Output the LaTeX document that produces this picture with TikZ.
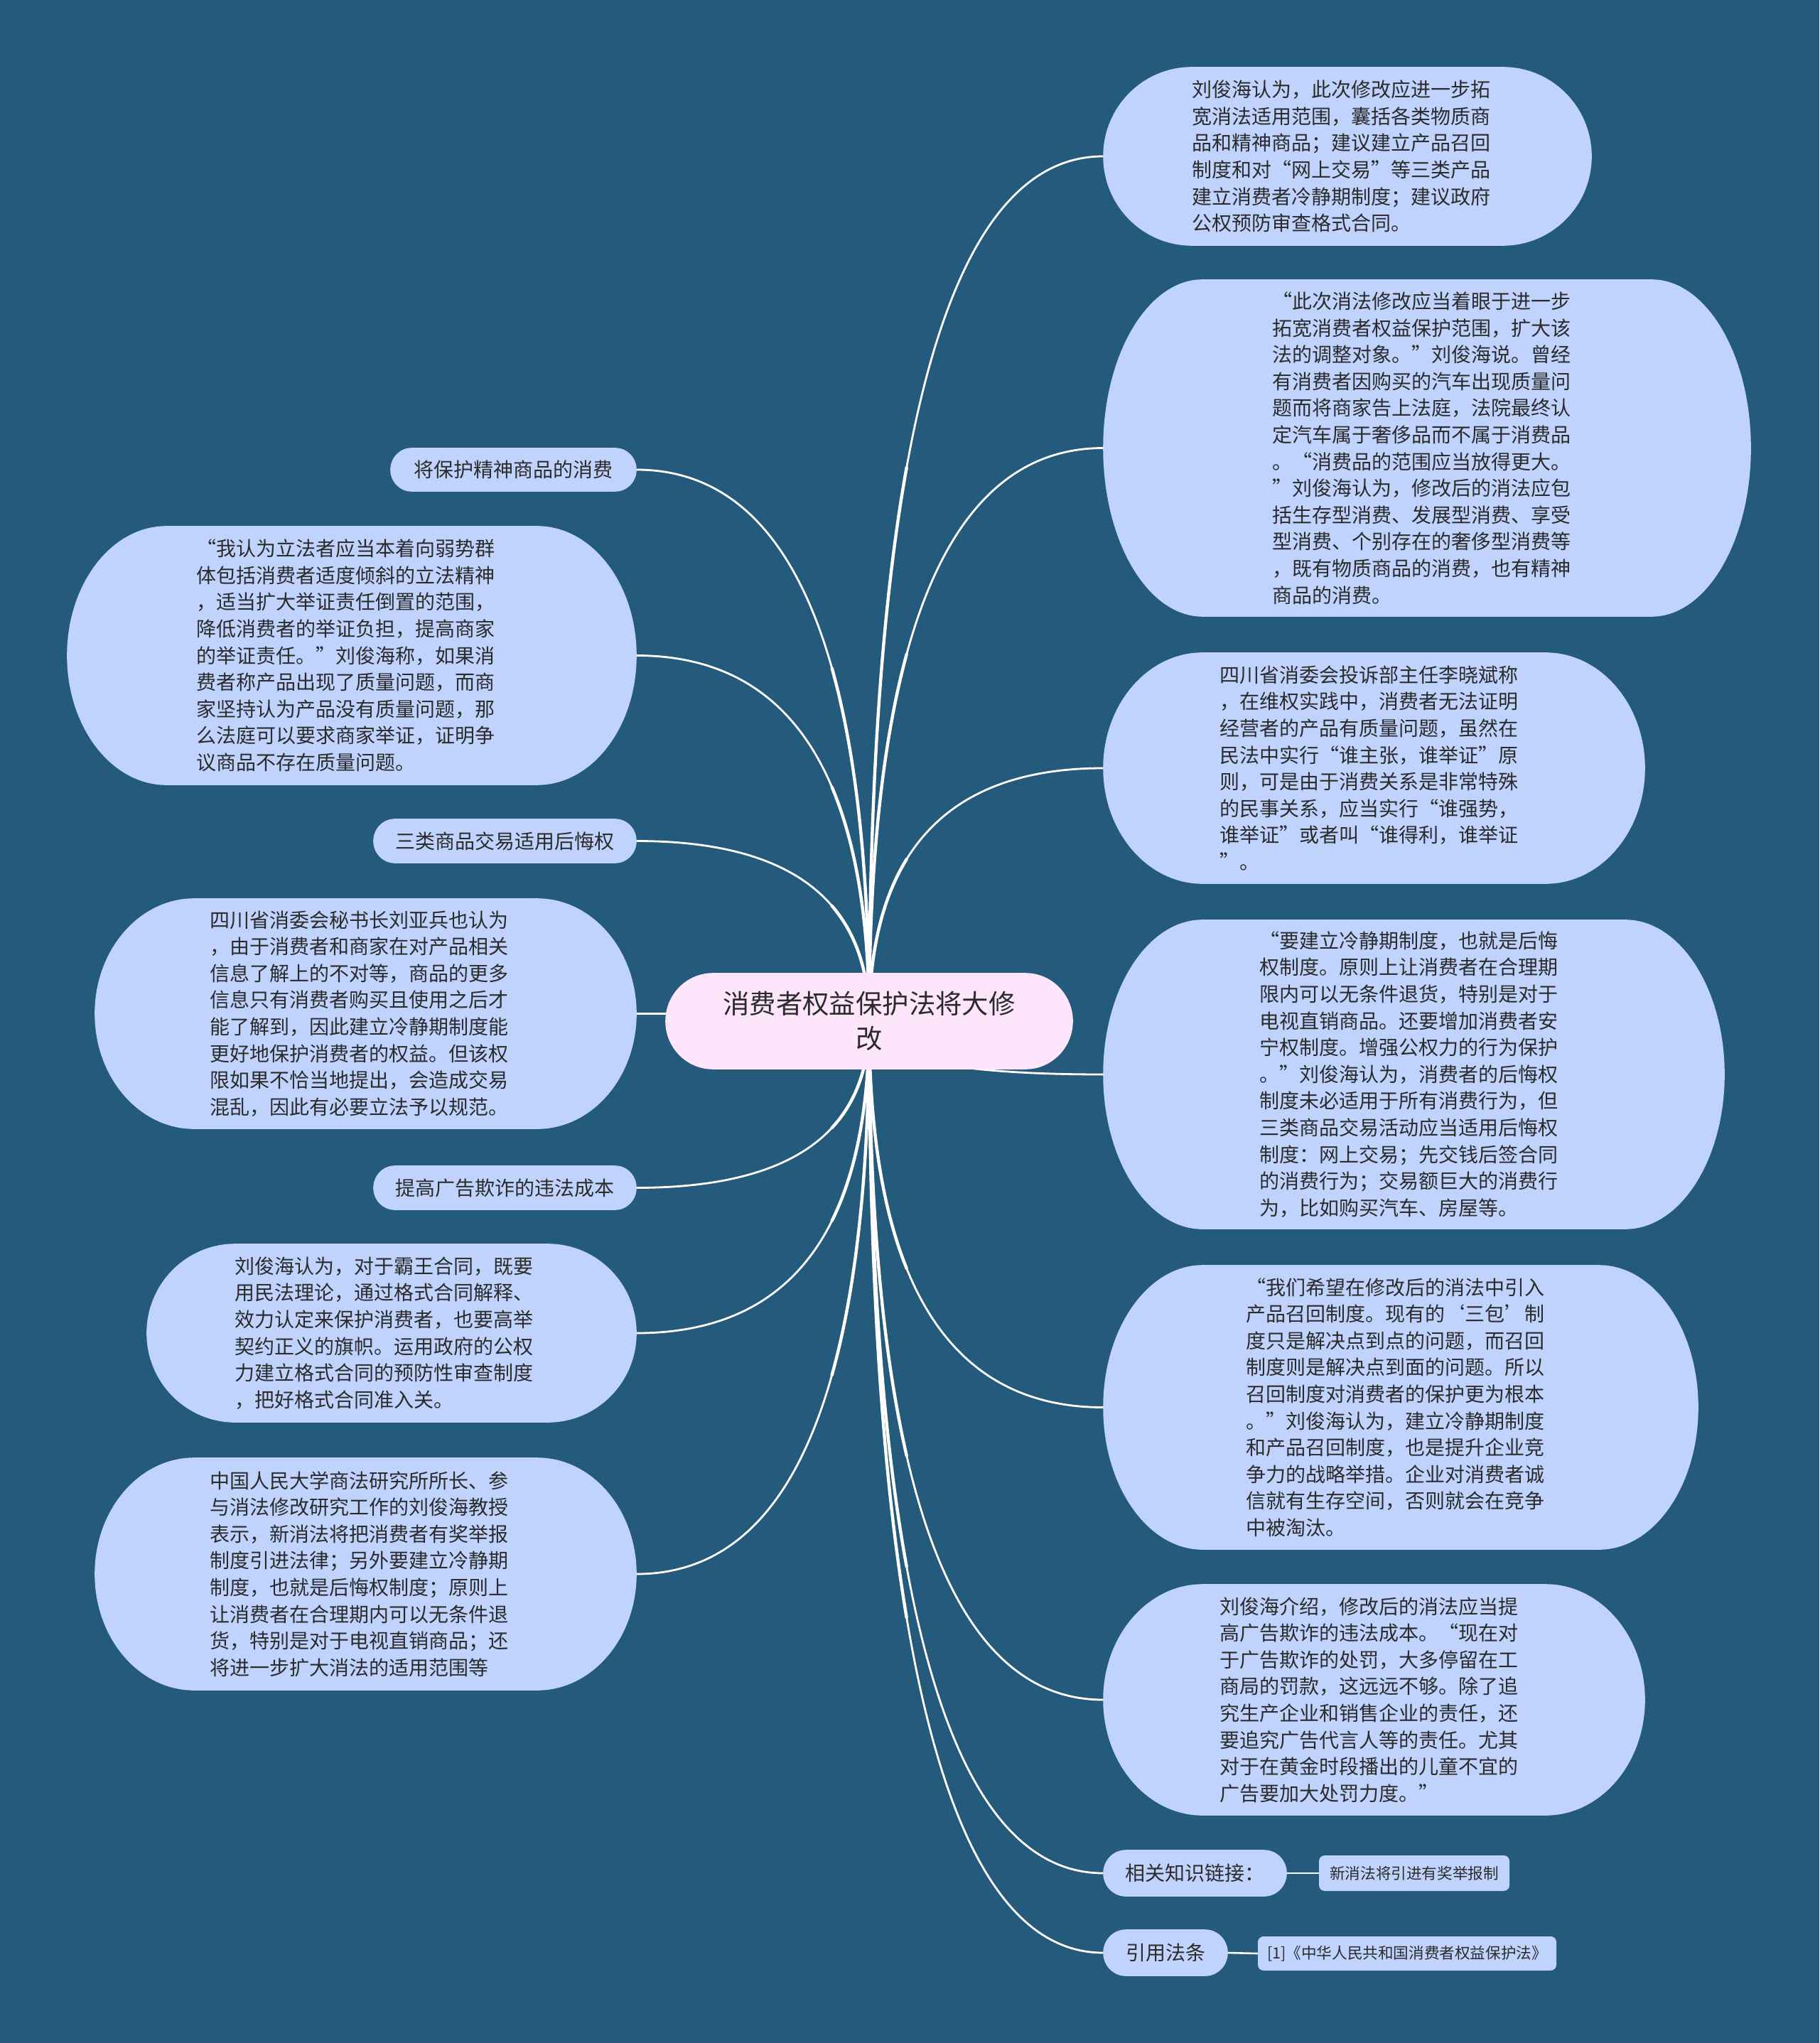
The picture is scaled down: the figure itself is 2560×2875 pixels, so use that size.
\documentclass[tikz,border=0pt]{standalone}
\usepackage{fontspec}
\setmainfont{Noto Sans CJK SC}
\usetikzlibrary{calc}
\definecolor{bg}{HTML}{245A7C}
\definecolor{bub}{HTML}{BFD3FC}
\definecolor{rootc}{HTML}{FDE5FB}
\definecolor{ink}{HTML}{2B2B2B}
\pgfdeclarelayer{background}
\pgfdeclarelayer{edges}
\pgfdeclarelayer{bubbles}
\pgfsetlayers{background,edges,bubbles,main}

% bubble with elliptical ends drawn behind a named node
\newcommand\bub[3]{%
  \path let \p1=(#1.north east), \p2=(#1.south west), \n1={(\y1-\y2)/2} in
    [fill=#3] (\x2+#2,\y1) -- (\x1-#2,\y1)
    arc[start angle=90,end angle=-90,x radius=#2,y radius={\n1*1pt}]
    -- (\x2+#2,\y2)
    arc[start angle=270,end angle=90,x radius=#2,y radius={\n1*1pt}] -- cycle;}

% curved connector from root centre to a node anchor, thicker near the root
\newcommand\medge[2]{%
  \coordinate (cc) at (#1 |- #2);
  \coordinate (q0) at ($(#1)!0.4!(cc)$);
  \coordinate (q1) at ($(cc)!0.4!(#2)$);
  \coordinate (bs) at ($(q0)!0.4!(q1)$);
  \draw[conn] (#1) .. controls ($(#1)!0.6667!(cc)$) and ($(#2)!0.6667!(cc)$) .. (#2);
  \draw[conn, line width=1.1pt] (#1) .. controls ($(#1)!0.6667!(q0)$) and ($(bs)!0.6667!(q0)$) .. (bs);}

\begin{document}
\begin{tikzpicture}[x=0.25pt,y=-0.25pt,
  holder/.style={inner sep=0pt},
  txt/.style={inner sep=0pt, text=ink, align=left, font=\fontsize{7pt}{9.4pt}\selectfont},
  roottxt/.style={inner sep=0pt, text=ink, align=center, font=\fontsize{9.35pt}{12.4pt}\selectfont},
  smallbox/.style={inner sep=0pt, text=ink, fill=bub, rounded corners=2pt, font=\fontsize{5.4pt}{6.5pt}\selectfont},
  conn/.style={draw=white, line width=0.7pt, line cap=round}]
\useasboundingbox (0,0) rectangle (2560,2875);
\begin{pgfonlayer}{background}
  \fill[bg] (0,0) rectangle (2560,2875);
\end{pgfonlayer}

% root
\node[roottxt, minimum width=143pt, minimum height=33.5pt] (root) at (1223,1437)
  {消费者权益保护法将大修\\改};

% right side
\node[holder, minimum width=171.5pt, minimum height=62.5pt] (r1) at (1896,220) {};
\node[txt] (r1t) at ([xshift=-2.2pt]r1.center) {%
刘俊海认为，此次修改应进一步拓\\
宽消法适用范围，囊括各类物质商\\
品和精神商品；建议建立产品召回\\
制度和对“网上交易”等三类产品\\
建立消费者冷静期制度；建议政府\\
公权预防审查格式合同。};

\node[holder, minimum width=227.5pt, minimum height=118.25pt] (r2) at (2008,630.5) {};
\node[txt] (r2t) at ([xshift=-1.8pt]r2.center) {%
“此次消法修改应当着眼于进一步\\
拓宽消费者权益保护范围，扩大该\\
法的调整对象。”刘俊海说。曾经\\
有消费者因购买的汽车出现质量问\\
题而将商家告上法庭，法院最终认\\
定汽车属于奢侈品而不属于消费品\\
。“消费品的范围应当放得更大。\\
”刘俊海认为，修改后的消法应包\\
括生存型消费、发展型消费、享受\\
型消费、个别存在的奢侈型消费等\\
，既有物质商品的消费，也有精神\\
商品的消费。};

\node[holder, minimum width=190.25pt, minimum height=81pt] (r3) at (1933.5,1081) {};
\node[txt] (r3t) at ([xshift=-1.8pt]r3.center) {%
四川省消委会投诉部主任李晓斌称\\
，在维权实践中，消费者无法证明\\
经营者的产品有质量问题，虽然在\\
民法中实行“谁主张，谁举证”原\\
则，可是由于消费关系是非常特殊\\
的民事关系，应当实行“谁强势，\\
谁举证”或者叫“谁得利，谁举证\\
”。};

\node[holder, minimum width=218.25pt, minimum height=108.5pt] (r4) at (1989.5,1512) {};
\node[txt] (r4t) at ([xshift=-1.8pt]r4.center) {%
“要建立冷静期制度，也就是后悔\\
权制度。原则上让消费者在合理期\\
限内可以无条件退货，特别是对于\\
电视直销商品。还要增加消费者安\\
宁权制度。增强公权力的行为保护\\
。”刘俊海认为，消费者的后悔权\\
制度未必适用于所有消费行为，但\\
三类商品交易活动应当适用后悔权\\
制度：网上交易；先交钱后签合同\\
的消费行为；交易额巨大的消费行\\
为，比如购买汽车、房屋等。};

\node[holder, minimum width=209pt, minimum height=99.75pt] (r5) at (1971,1980.5) {};
\node[txt] (r5t) at ([xshift=-1.8pt]r5.center) {%
“我们希望在修改后的消法中引入\\
产品召回制度。现有的‘三包’制\\
度只是解决点到点的问题，而召回\\
制度则是解决点到面的问题。所以\\
召回制度对消费者的保护更为根本\\
。”刘俊海认为，建立冷静期制度\\
和产品召回制度，也是提升企业竞\\
争力的战略举措。企业对消费者诚\\
信就有生存空间，否则就会在竞争\\
中被淘汰。};

\node[holder, minimum width=190.25pt, minimum height=81pt] (r6) at (1933.5,2392) {};
\node[txt] (r6t) at ([xshift=-1.8pt]r6.center) {%
刘俊海介绍，修改后的消法应当提\\
高广告欺诈的违法成本。“现在对\\
于广告欺诈的处罚，大多停留在工\\
商局的罚款，这远远不够。除了追\\
究生产企业和销售企业的责任，还\\
要追究广告代言人等的责任。尤其\\
对于在黄金时段播出的儿童不宜的\\
广告要加大处罚力度。”};

\node[txt, minimum width=64.25pt, minimum height=16pt] (r7) at (1681.5,2636) {相关知识链接：};
\node[smallbox, minimum width=67pt, minimum height=12.5pt] (r7c) at (1990,2636) {新消法将引进有奖举报制};
\node[txt, minimum width=43.5pt, minimum height=16pt] (r8) at (1640,2748) {引用法条};
\node[smallbox, minimum width=105pt, minimum height=12pt] (r8c) at (1980,2749) {[1]《中华人民共和国消费者权益保护法》};

% left side
\node[txt, minimum width=86.25pt, minimum height=15pt] (l1) at (722.5,661) {将保护精神商品的消费};

\node[holder, minimum width=200pt, minimum height=90.75pt] (l2) at (495,922.5) {};
\node[txt] (l2t) at ([xshift=-2.2pt]l2.center) {%
“我认为立法者应当本着向弱势群\\
体包括消费者适度倾斜的立法精神\\
，适当扩大举证责任倒置的范围，\\
降低消费者的举证负担，提高商家\\
的举证责任。”刘俊海称，如果消\\
费者称产品出现了质量问题，而商\\
家坚持认为产品没有质量问题，那\\
么法庭可以要求商家举证，证明争\\
议商品不存在质量问题。};

\node[txt, minimum width=92.25pt, minimum height=15.25pt] (l3) at (710.5,1183.5) {三类商品交易适用后悔权};

\node[holder, minimum width=190.25pt, minimum height=80.75pt] (l4) at (514.5,1426.5) {};
\node[txt] (l4t) at ([xshift=-2.2pt]l4.center) {%
四川省消委会秘书长刘亚兵也认为\\
，由于消费者和商家在对产品相关\\
信息了解上的不对等，商品的更多\\
信息只有消费者购买且使用之后才\\
能了解到，因此建立冷静期制度能\\
更好地保护消费者的权益。但该权\\
限如果不恰当地提出，会造成交易\\
混乱，因此有必要立法予以规范。};

\node[txt, minimum width=92.25pt, minimum height=15.25pt] (l5) at (710.5,1671.5) {提高广告欺诈的违法成本};

\node[holder, minimum width=172pt, minimum height=62.5pt] (l6) at (551,1876) {};
\node[txt] (l6t) at ([xshift=-2.6pt]l6.center) {%
刘俊海认为，对于霸王合同，既要\\
用民法理论，通过格式合同解释、\\
效力认定来保护消费者，也要高举\\
契约正义的旗帜。运用政府的公权\\
力建立格式合同的预防性审查制度\\
，把好格式合同准入关。};

\node[holder, minimum width=190.25pt, minimum height=81.5pt] (l7) at (514.5,2215) {};
\node[txt] (l7t) at ([xshift=-2.2pt]l7.center) {%
中国人民大学商法研究所所长、参\\
与消法修改研究工作的刘俊海教授\\
表示，新消法将把消费者有奖举报\\
制度引进法律；另外要建立冷静期\\
制度，也就是后悔权制度；原则上\\
让消费者在合理期内可以无条件退\\
货，特别是对于电视直销商品；还\\
将进一步扩大消法的适用范围等};

% bubbles
\begin{pgfonlayer}{bubbles}
  \bub{root}{16.75pt}{rootc}
  \bub{r1}{31.25pt}{bub}
  \bub{r2}{35pt}{bub}
  \bub{r3}{35pt}{bub}
  \bub{r4}{35pt}{bub}
  \bub{r5}{35pt}{bub}
  \bub{r6}{35pt}{bub}
  \bub{r7}{8pt}{bub}
  \bub{r8}{8pt}{bub}
  \bub{l1}{7.5pt}{bub}
  \bub{l2}{35pt}{bub}
  \bub{l3}{7.6pt}{bub}
  \bub{l4}{35pt}{bub}
  \bub{l5}{7.6pt}{bub}
  \bub{l6}{31.25pt}{bub}
  \bub{l7}{35pt}{bub}
\end{pgfonlayer}

% connectors
\begin{pgfonlayer}{edges}
  \medge{root.center}{r1.west}
  \medge{root.center}{r2.west}
  \medge{root.center}{r3.west}
  \medge{root.center}{r4.west}
  \medge{root.center}{r5.west}
  \medge{root.center}{r6.west}
  \medge{root.center}{r7.west}
  \medge{root.center}{r8.west}
  \medge{root.center}{l1.east}
  \medge{root.center}{l2.east}
  \medge{root.center}{l3.east}
  \medge{root.center}{l4.east}
  \medge{root.center}{l5.east}
  \medge{root.center}{l6.east}
  \medge{root.center}{l7.east}
  \draw[conn, line width=0.65pt] (r7.east) -- (r7c.west);
  \draw[conn, line width=0.65pt] (r8.east) -- (r8c.west);
\end{pgfonlayer}
\end{tikzpicture}
\end{document}
